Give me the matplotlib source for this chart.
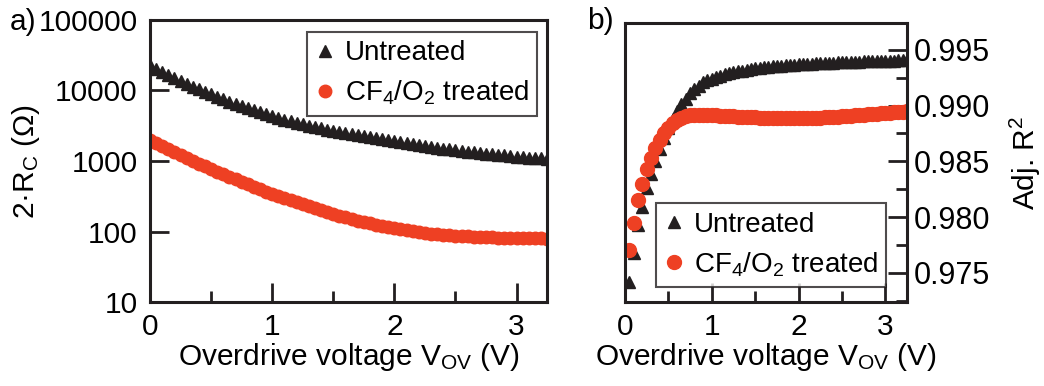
import matplotlib
matplotlib.use('Agg')
import matplotlib.pyplot as plt
import numpy as np
from matplotlib.ticker import LogLocator, MultipleLocator, NullFormatter, FixedFormatter, FixedLocator

plt.rcParams['font.family'] = ['Liberation Sans', 'DejaVu Sans']
plt.rcParams['mathtext.default'] = 'regular'

# overdrive voltage grid (V), 0.05 V steps
v_ov = np.round(np.arange(0, 3.26, 0.05), 2)

# a) 2*Rc in ohm
rc_untreated = [22900, 20400, 18300, 16400, 14900, 13500, 12300, 11300, 10350, 9530,
                8790, 8090, 7480, 6930, 6440, 6000, 5600, 5240, 4900, 4590,
                4310, 4060, 3850, 3650, 3470, 3300, 3160, 3020, 2900, 2790,
                2690, 2600, 2510, 2430, 2340, 2260, 2190, 2110, 2040, 1970,
                1910, 1850, 1790, 1740, 1690, 1640, 1590, 1550, 1500, 1460,
                1410, 1380, 1360, 1330, 1300, 1270, 1250, 1220, 1200, 1170,
                1150, 1130, 1120, 1100, 1090, 1070]
rc_treated = [2000, 1810, 1640, 1490, 1360, 1230, 1120, 1010, 920, 836,
              759, 700, 646, 596, 550, 507, 468, 432, 398, 367,
              339, 316, 296, 277, 259, 243, 228, 214, 201, 189,
              178, 168, 159, 151, 143, 136, 130, 125, 120, 115,
              111, 107, 104, 101, 98, 95.5, 93.3, 91.4, 89.7, 88.3,
              87.1, 86.1, 85.1, 84.3, 83.6, 83.0, 82.4, 81.8, 81.5, 81.1,
              80.7, 80.4, 80.0, 79.8, 79.6, 79.4]

# b) adjusted R^2 of the fits
r2_untreated = [0.9715, 0.9742, 0.9768, 0.9793, 0.9809, 0.9826, 0.9839, 0.9850, 0.9861, 0.9871,
                0.9880, 0.9888, 0.9895, 0.9901, 0.9906, 0.9911, 0.9915, 0.9918, 0.9921, 0.9923,
                0.9924, 0.99255, 0.99268, 0.9928, 0.9929, 0.99299, 0.99307, 0.99314, 0.99321, 0.99327,
                0.99333, 0.99338, 0.99343, 0.99347, 0.99351, 0.99355, 0.99358, 0.99361, 0.99364, 0.99367,
                0.9937, 0.99372, 0.99374, 0.99376, 0.99378, 0.9938, 0.99382, 0.99384, 0.99386, 0.99388,
                0.99389, 0.99391, 0.99392, 0.99394, 0.99395, 0.99396, 0.99398, 0.99399, 0.994, 0.99401,
                0.99402, 0.99403, 0.99404, 0.99405, 0.99406, 0.99407]
r2_treated = [0.9705, 0.9771, 0.9795, 0.9815, 0.9830, 0.9843, 0.9853, 0.9862, 0.9869, 0.9875,
              0.9880, 0.9884, 0.9887, 0.9889, 0.9891, 0.9892, 0.9892, 0.9892, 0.98918, 0.98916,
              0.98914, 0.98912, 0.9891, 0.98908, 0.98906, 0.98904, 0.98902, 0.989, 0.98898, 0.98896,
              0.98894, 0.98893, 0.98892, 0.98891, 0.9889, 0.98889, 0.98888, 0.98888, 0.98888, 0.98888,
              0.98888, 0.98889, 0.9889, 0.98891, 0.98892, 0.98893, 0.98895, 0.98897, 0.98899, 0.98901,
              0.98903, 0.98906, 0.98909, 0.98912, 0.98915, 0.98918, 0.98921, 0.98924, 0.98927, 0.9893,
              0.98933, 0.98936, 0.98939, 0.98942, 0.98945, 0.98948]

black = '#231f20'
red = '#ee4023'
lab_untreated = 'Untreated'
lab_treated = 'CF$_4$/O$_2$ treated'

fig = plt.figure(figsize=(10.44, 3.86), dpi=100)
ax1 = fig.add_axes([0.1437, 0.2176, 0.3803, 0.7306])
ax2 = fig.add_axes([0.5987, 0.2176, 0.2701, 0.7228])

for ax in (ax1, ax2):
    for s in ax.spines.values():
        s.set_linewidth(2.2)
        s.set_color(black)

leg_kw = dict(fontsize=20, frameon=True, fancybox=False, edgecolor=black,
              handletextpad=0.35, handlelength=0.7, borderpad=0.3, labelspacing=0.45,
              borderaxespad=0.0)

# ---- panel a
ax1.plot(v_ov, rc_untreated, ls='none', marker='^', ms=8, color=black, label=lab_untreated)
ax1.plot(v_ov, rc_treated, ls='none', marker='o', ms=9, color=red, mec=red, label=lab_treated)
ax1.set_yscale('log')
ax1.set_ylim(10, 100000)
ax1.set_xlim(0, 3.25)
ax1.yaxis.set_major_locator(FixedLocator([10, 100, 1000, 10000, 100000]))
ax1.yaxis.set_major_formatter(FixedFormatter(['10', '100', '1000', '10000', '100000']))
ax1.yaxis.set_minor_locator(LogLocator(base=10, subs=np.arange(2, 10)))
ax1.yaxis.set_minor_formatter(NullFormatter())
ax1.xaxis.set_major_locator(MultipleLocator(1))
ax1.xaxis.set_minor_locator(MultipleLocator(0.5))
ax1.tick_params(which='both', direction='in', width=2, color=black, labelsize=21.5, top=False, right=False)
ax1.tick_params(which='major', length=14)
ax1.tick_params(which='minor', length=8)
ax1.tick_params(axis='y', which='major', pad=9)
ax1.tick_params(axis='x', which='major', pad=8)
ax1.set_xlabel('Overdrive voltage V$_{OV}$ (V)', fontsize=21.5, labelpad=0)
ax1.set_ylabel('2·R$_C$ (Ω)', fontsize=21.5)
ax1.yaxis.set_label_coords(-0.272, 0.5)
leg1 = ax1.legend(loc='upper right', bbox_to_anchor=(0.975, 0.957), **leg_kw)
leg1.get_frame().set_linewidth(1.5)
fig.text(0.009, 0.943, 'a)', fontsize=21.5, ha='left', va='center')

# ---- panel b
ax2.plot(v_ov, r2_untreated, ls='none', marker='^', ms=8, color=black, label=lab_untreated)
ax2.plot(v_ov, r2_treated, ls='none', marker='o', ms=10, color=red, mec=red, label=lab_treated)
ax2.set_xlim(0, 3.25)
ax2.set_ylim(0.9724, 0.9974)
ax2.yaxis.tick_right()
ax2.yaxis.set_label_position('right')
ax2.yaxis.set_major_locator(MultipleLocator(0.005))
ax2.yaxis.set_minor_locator(MultipleLocator(0.0025))
ax2.yaxis.set_major_formatter(plt.FormatStrFormatter('%.3f'))
ax2.xaxis.set_major_locator(MultipleLocator(1))
ax2.xaxis.set_minor_locator(MultipleLocator(0.5))
ax2.tick_params(which='both', direction='in', width=2, color=black, labelsize=22, top=False,
                left=False, right=True)
ax2.tick_params(which='major', length=14)
ax2.tick_params(which='minor', length=8)
ax2.tick_params(axis='y', which='major', pad=5)
ax2.tick_params(axis='x', which='major', pad=8, labelsize=21.5)
ax2.set_xlabel('Overdrive voltage V$_{OV}$ (V)', fontsize=21.5, labelpad=0)
ax2.set_ylabel('Adj. R$^2$', fontsize=21.5, rotation=90)
ax2.yaxis.set_label_coords(1.358, 0.5)
leg2 = ax2.legend(loc='lower right', bbox_to_anchor=(0.926, 0.054), **leg_kw)
leg2.get_frame().set_linewidth(1.5)
fig.text(0.562, 0.945, 'b)', fontsize=21.5, ha='left', va='center')

fig.savefig('out.png', dpi=100)
